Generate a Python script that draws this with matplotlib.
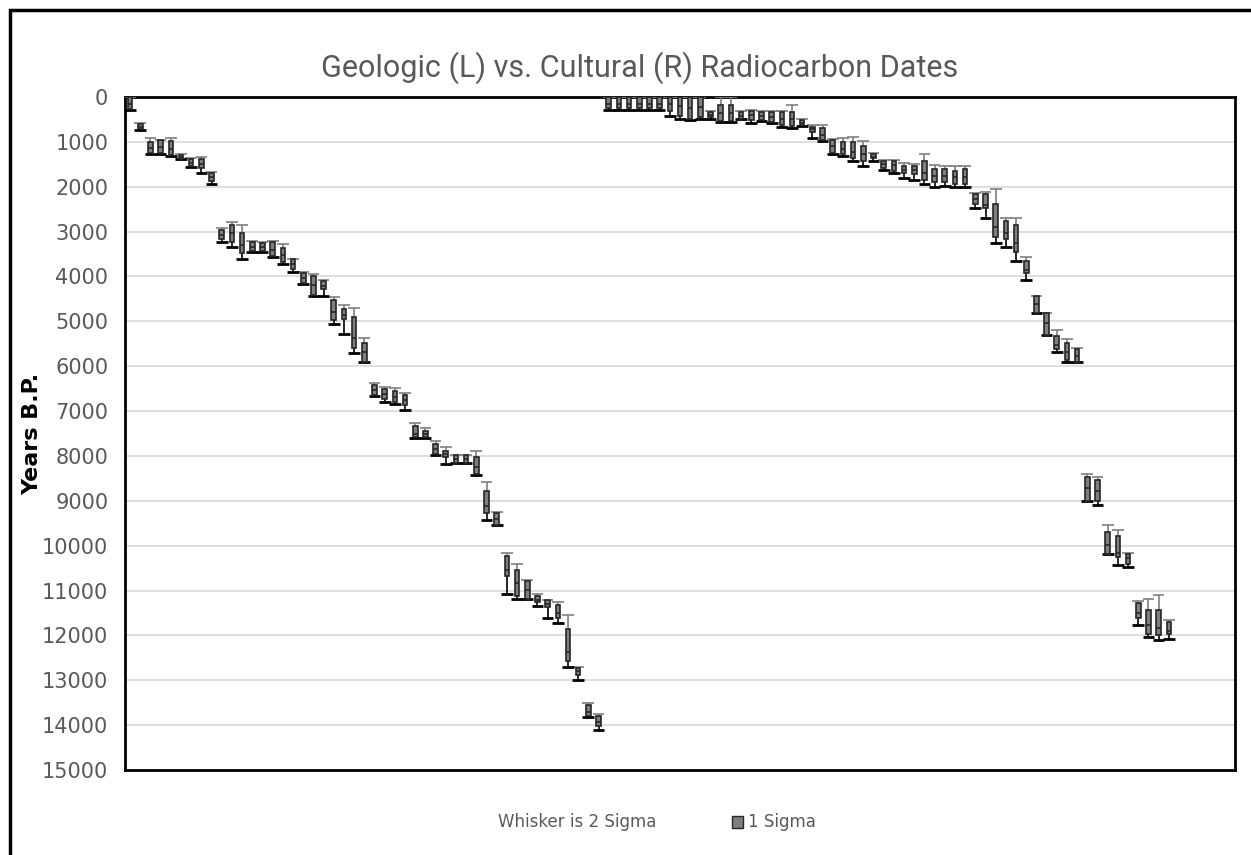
import numpy as np
import matplotlib
matplotlib.use("Agg")
import matplotlib.pyplot as plt
from matplotlib.patches import Rectangle

# ============================================================
#   DATOS (años B.P.)  -- bigote = 2 sigma, caja = 1 sigma
# ============================================================
# Geológicas (izquierda)
geo_whisk_young = [0, 570, 910, 950, 910, 1280, 1370, 1330, 1680, 2915, 2780, 2855,
                   3210, 3225, 3200, 3285, 3600, 3895, 3945, 4080, 4450, 4635, 4710,
                   5365, 6365, 6455, 6480, 6590, 7255, 7385, 7660, 7790, 7975, 7975,
                   7880, 8570, 9255, 10165, 10405, 10775, 11080, 11205, 11260, 11540,
                   12715, 13505, 13745]
geo_box_young = [0, 600, 1000, 960, 980, 1300, 1390, 1390, 1700, 2970, 2855, 3025,
                 3225, 3250, 3225, 3360, 3620, 3930, 3990, 4100, 4525, 4730, 4910,
                 5490, 6420, 6510, 6545, 6640, 7330, 7445, 7730, 7880, 7980, 7980,
                 8030, 8790, 9275, 10240, 10540, 10780, 11130, 11220, 11330, 11860,
                 12730, 13560, 13805]
geo_median = [150, 660, 1130, 1120, 1150, 1340, 1470, 1500, 1790, 3070, 3040, 3300,
              3340, 3340, 3410, 3520, 3730, 4030, 4190, 4210, 4790, 4850, 5380,
              5675, 6530, 6630, 6680, 6750, 7500, 7520, 7850, 7960, 8070, 8070,
              8240, 9125, 9400, 10540, 10835, 10985, 11200, 11300, 11500, 12360,
              12800, 13700, 13920]
geo_box_old = [270, 720, 1250, 1240, 1290, 1380, 1540, 1590, 1870, 3170, 3225, 3470,
               3440, 3440, 3540, 3670, 3835, 4140, 4410, 4290, 4970, 4955, 5600,
               5900, 6640, 6730, 6790, 6860, 7580, 7580, 7955, 8030, 8160, 8160,
               8400, 9275, 9535, 10685, 11115, 11190, 11265, 11375, 11615, 12580,
               12875, 13800, 14025]
geo_whisk_old = [300, 740, 1280, 1260, 1310, 1390, 1570, 1700, 1940, 3225, 3340, 3600,
                 3450, 3450, 3560, 3730, 3895, 4170, 4430, 4430, 5060, 5280, 5710,
                 5915, 6655, 6790, 6850, 6975, 7590, 7590, 7980, 8180, 8165, 8165,
                 8420, 9425, 9550, 11070, 11190, 11195, 11355, 11615, 11725, 12705,
                 12990, 13810, 14100]

# Culturales (derecha)
cul_whisk_young = [0, 0, 0, 0, 0, 0, 0, 0, 0, 0, 310, 0, 0, 310, 280, 310, 310, 310,
                   170, 500, 630, 615, 945, 910, 890, 975, 1245, 1405, 1395, 1480,
                   1495, 1275, 1520, 1540, 1540, 1540, 2135, 2110, 2060, 2690, 2690,
                   3575, 4430, 4805, 5195, 5395, 5600, 8400, 8460, 9535, 9660, 10165,
                   11230, 11190, 11110, 11650]
cul_box_young = [0, 0, 0, 0, 0, 0, 0, 0, 0, 0, 330, 170, 170, 345, 310, 330, 330, 330,
                 330, 515, 665, 700, 960, 1000, 1000, 1090, 1280, 1430, 1420, 1540,
                 1540, 1420, 1615, 1615, 1645, 1615, 2165, 2165, 2395, 2765, 2855,
                 3650, 4430, 4820, 5325, 5490, 5615, 8475, 8535, 9705, 9780, 10180,
                 11280, 11430, 11430, 11705]
cul_median = [145, 145, 145, 145, 145, 145, 150, 200, 250, 220, 400, 350, 350, 420,
              410, 420, 440, 480, 490, 570, 720, 850, 1100, 1150, 1220, 1260, 1330,
              1500, 1520, 1620, 1630, 1690, 1760, 1760, 1790, 1780, 2270, 2410, 2890,
              3025, 3260, 3850, 4610, 5045, 5530, 5690, 5765, 8720, 8790, 9980,
              10165, 10280, 11500, 11765, 11840, 11900]
cul_box_old = [255, 255, 255, 255, 255, 255, 310, 420, 500, 440, 455, 530, 530, 495,
               515, 515, 555, 625, 650, 625, 775, 960, 1245, 1280, 1370, 1420, 1370,
               1590, 1645, 1705, 1720, 1840, 1890, 1890, 1940, 1950, 2375, 2485, 3115,
               3175, 3450, 3915, 4805, 5300, 5625, 5860, 5900, 8995, 8995, 10180,
               10255, 10405, 11615, 11965, 11985, 11965]
cul_whisk_old = [280, 280, 280, 280, 280, 280, 420, 480, 505, 500, 480, 555, 555, 500,
                 570, 530, 570, 665, 680, 645, 910, 975, 1275, 1310, 1430, 1540, 1420,
                 1630, 1705, 1795, 1840, 1940, 2000, 1980, 2000, 2000, 2485, 2705, 3250,
                 3335, 3650, 4080, 4820, 5305, 5675, 5900, 5915, 9000, 9090, 10190,
                 10425, 10480, 11765, 12045, 12110, 12080]

N_SLOTS = 109   # categorías del eje (las últimas quedan vacías)

whisk_young = np.array(geo_whisk_young + cul_whisk_young, dtype=float)
box_young = np.array(geo_box_young + cul_box_young, dtype=float)
median = np.array(geo_median + cul_median, dtype=float)
box_old = np.array(geo_box_old + cul_box_old, dtype=float)
whisk_old = np.array(geo_whisk_old + cul_whisk_old, dtype=float)
x = np.arange(len(median))

# ============================================================
#  FIGURA
# ============================================================
BOX_GRAY = '#7f7f7f'
EDGE = '#262626'
TXT_GRAY = '#595959'

fig = plt.figure(figsize=(12.51, 8.55), dpi=100)
ax = fig.add_axes([125/1251, 1-770/855, 1110/1251, 673/855])

# marco exterior
fig.patches.append(Rectangle((10/1251, -0.05), 1.2, 1-10/855+0.05,
                             transform=fig.transFigure, fill=False,
                             edgecolor='black', linewidth=2.5))

bw = 0.45   # ancho de caja
cw = 1.15   # ancho de tope del bigote

# bigote superior (gris) y tope
ax.vlines(x, whisk_young, box_young, color=BOX_GRAY, linewidth=1.2, zorder=3)
ax.hlines(whisk_young, x - cw/2, x + cw/2, color=BOX_GRAY, linewidth=1.2, zorder=3)
# bigote inferior (negro) y tope
ax.vlines(x, box_old, whisk_old, color='black', linewidth=1.2, zorder=3)
ax.hlines(whisk_old, x - cw/2, x + cw/2, color='black', linewidth=2.0, zorder=3)

# caja 1 sigma
ax.bar(x, box_old - box_young, bottom=box_young, width=bw,
       color=BOX_GRAY, edgecolor=EDGE, linewidth=1.2, zorder=4)
# mediana
ax.hlines(median, x - bw/2, x + bw/2, color=EDGE, linewidth=1.2, zorder=5)

ax.set_xlim(-0.5, N_SLOTS - 0.5)
ax.set_ylim(15000, 0)
ax.set_yticks(np.arange(0, 15001, 1000))
ax.set_xticks([])
ax.tick_params(axis='y', length=0, pad=12, labelsize=15, labelcolor=TXT_GRAY)
ax.grid(axis='y', color='#d9d9d9', linewidth=1.2, zorder=0)
ax.set_axisbelow(True)
for s in ax.spines.values():
    s.set_color('black')
    s.set_linewidth(2)

ax.set_ylabel("Years B.P.", fontsize=16, fontweight='bold', labelpad=0)

fig.text(640/1251, 1-68/855, "Geologic (L) vs. Cultural (R) Radiocarbon Dates",
         ha='center', va='center', fontsize=22, color=TXT_GRAY,
         family=['Roboto', 'DejaVu Sans'])

# leyenda
fig.text(498/1251, 1-822/855, "Whisker is 2 Sigma", ha='left', va='center',
         fontsize=12, color=TXT_GRAY)
fig.patches.append(Rectangle((732/1251, 1-828/855), 11/1251, 12/855,
                             transform=fig.transFigure, facecolor=BOX_GRAY,
                             edgecolor=EDGE, linewidth=1))
fig.text(748/1251, 1-822/855, "1 Sigma", ha='left', va='center',
         fontsize=12, color=TXT_GRAY)

fig.savefig("out.png", dpi=100)
